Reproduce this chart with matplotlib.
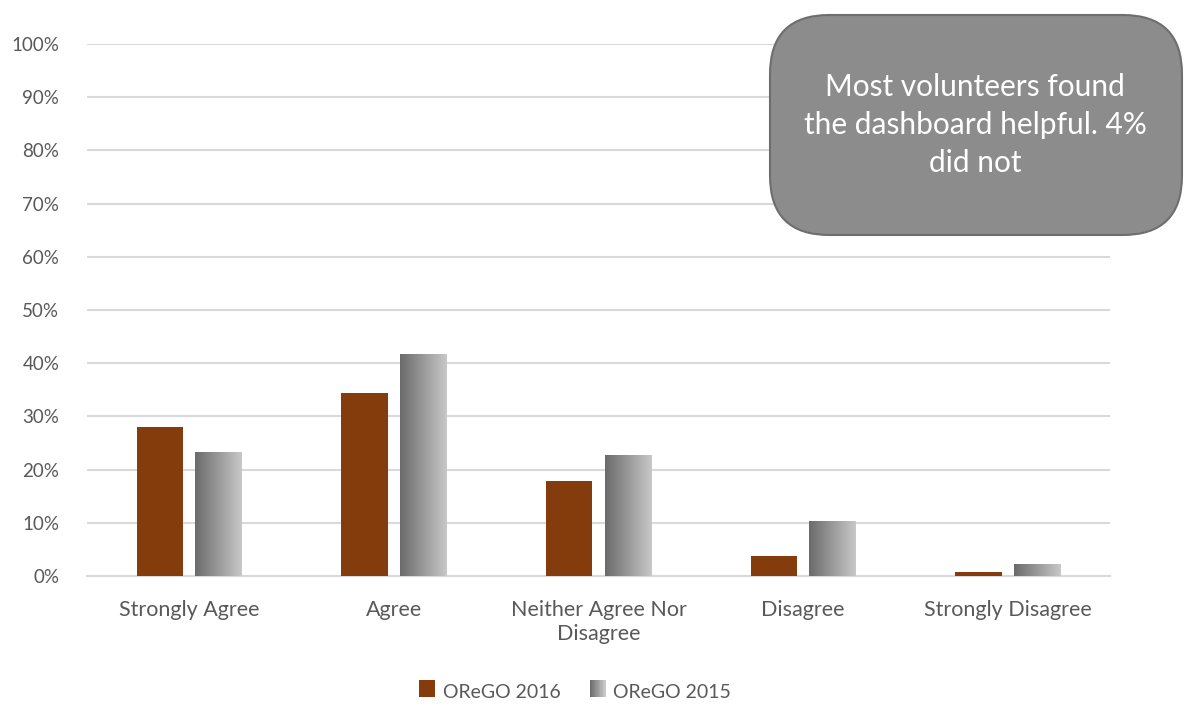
import numpy as np
import matplotlib.pyplot as plt
from matplotlib.patches import FancyBboxPatch, Rectangle
from matplotlib.legend_handler import HandlerBase

plt.rcParams['font.family'] = ['Lato', 'DejaVu Sans']

categories = ["Strongly Agree", "Agree", "Neither Agree Nor\nDisagree", "Disagree", "Strongly Disagree"]
orego_2016 = [0.280, 0.344, 0.179, 0.038, 0.008]
orego_2015 = [0.233, 0.417, 0.227, 0.103, 0.023]
yticks = np.arange(0, 1.01, 0.1)

grad = np.linspace(0, 1, 256).reshape(1, -1)
gray_cmap = plt.matplotlib.colors.LinearSegmentedColormap.from_list("g", ["#6b6b6b", "#c8c8c8"])

fig = plt.figure(figsize=(11.84, 7.08), dpi=100)
ax = fig.add_axes([87/1184, 1 - 576/708, (1110-87)/1184, (576-44)/708])

x = np.arange(len(categories))
w = 0.227
off = 0.143
ax.bar(x - off, orego_2016, w, color="#843C0C", zorder=3)
bars15 = ax.bar(x + off, orego_2015, w, color="none", zorder=3)
for b in bars15:
    x0, y0 = b.get_x(), b.get_y()
    im = ax.imshow(grad, cmap=gray_cmap, aspect="auto", zorder=3,
                   extent=[x0, x0 + b.get_width(), y0, y0 + b.get_height()])
    im.set_clip_path(b)

ax.set_xlim(-0.5, len(categories) - 0.5)
ax.set_ylim(0, 1)
ax.set_yticks(yticks)
ax.set_yticklabels([f"{int(round(v*100))}%" for v in yticks])
ax.set_xticks(x)
ax.set_xticklabels(categories, fontsize=15.5, linespacing=1.3)
ax.grid(axis="y", color="#d9d9d9", linewidth=1.5, zorder=0)
for s in ["top", "right", "left"]:
    ax.spines[s].set_visible(False)
ax.spines["bottom"].set_color("#d9d9d9")
ax.spines["bottom"].set_linewidth(1.5)
ax.tick_params(length=0, colors="#595959")
ax.tick_params(axis="y", pad=20, labelsize=13.5)
ax.tick_params(axis="x", pad=17)


class GradHandler(HandlerBase):
    def create_artists(self, legend, orig, xd, yd, width, height, fontsize, trans):
        s = min(width, height)
        arts = []
        n = 12
        for i in range(n):
            r = Rectangle((xd + s * i / n, yd), s / n, s, transform=trans,
                          color=gray_cmap(i / (n - 1)), lw=0)
            arts.append(r)
        return arts


class SqHandler(HandlerBase):
    def create_artists(self, legend, orig, xd, yd, width, height, fontsize, trans):
        s = min(width, height)
        return [Rectangle((xd, yd), s, s, transform=trans, color="#843C0C", lw=0)]


h1 = Rectangle((0, 0), 1, 1)
h2 = Rectangle((0, 0), 1, 1)
fig.legend([h1, h2], ["OReGO 2016", "OReGO 2015"], loc="center",
           bbox_to_anchor=(575/1184, 1 - 692/708), ncol=2, frameon=False,
           handler_map={h1: SqHandler(), h2: GradHandler()},
           handlelength=0.9, handleheight=0.9, handletextpad=0.3, columnspacing=1.5,
           prop={"size": 14}, labelcolor="#595959")

box = FancyBboxPatch((770/1184, 1 - 235/708), (1182-770)/1184, (235-15)/708,
                     boxstyle="round,pad=0,rounding_size=0.05", transform=fig.transFigure,
                     facecolor="#8c8c8c", edgecolor="#6e6e6e", linewidth=1.5,
                     mutation_aspect=1184/708, zorder=10)
fig.patches.append(box)
fig.text(975/1184, 1 - 125/708, "Most volunteers found\nthe dashboard helpful. 4%\ndid not",
         ha="center", va="center", color="white", fontsize=21.5, linespacing=1.45, zorder=11)

fig.savefig("out.png", dpi=100)
